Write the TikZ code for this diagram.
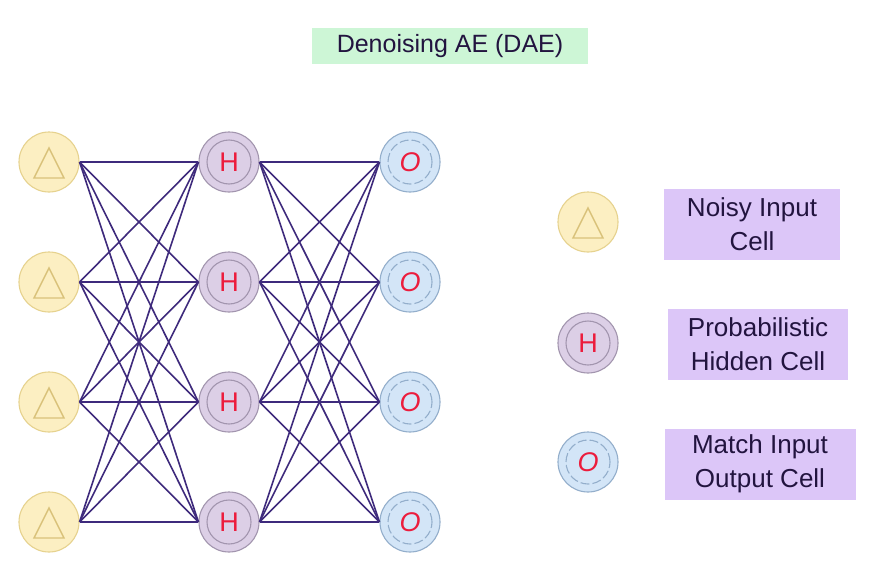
\documentclass[tikz,border=0pt]{standalone}
\usepackage{fontspec}
\setmainfont{Liberation Sans}
\begin{document}
\begin{tikzpicture}[x=1pt,y=-1pt,
  cellbase/.style={circle, minimum size=60pt, inner sep=0pt, line width=1.1pt},
  inputcell/.style={cellbase, draw=inborder, fill=infill,
    path picture={\draw[line width=1.4pt, draw=tricol]
      ([xshift=-15pt,yshift=-16pt]path picture bounding box.center) --
      ([xshift=15pt,yshift=-16pt]path picture bounding box.center) --
      ([yshift=14pt]path picture bounding box.center) -- cycle;}},
  hiddencell/.style={cellbase, draw=hidborder, fill=hidfill, text=letred,
    font=\fontsize{27}{27}\selectfont,
    path picture={\draw[line width=1.1pt, draw=hidborder]
      (path picture bounding box.center) circle (22pt);}},
  outputcell/.style={cellbase, draw=outborder, fill=outfill, text=letred,
    font=\fontsize{27}{27}\selectfont\itshape,
    path picture={\draw[line width=1.1pt, draw=outborder, dash pattern=on 9pt off 3pt]
      (path picture bounding box.center) circle (22pt);}},
  labelbox/.style={fill=labfill, text=labtext, align=center, inner xsep=4pt, inner ysep=3pt,
    font=\fontsize{26}{34}\selectfont},
  edge/.style={draw=edgecol, line width=1.6pt}
]
\definecolor{infill}{HTML}{FCEFC2}
\definecolor{inborder}{HTML}{E6D28E}
\definecolor{tricol}{HTML}{D9C27A}
\definecolor{hidfill}{HTML}{DCCFE6}
\definecolor{hidborder}{HTML}{A295AE}
\definecolor{outfill}{HTML}{D3E5F7}
\definecolor{outborder}{HTML}{93AECB}
\definecolor{letred}{HTML}{EC1C3C}
\definecolor{edgecol}{HTML}{3E2A7C}
\definecolor{labfill}{HTML}{DCC6F8}
\definecolor{labtext}{HTML}{22143F}
\definecolor{titlefill}{HTML}{CDF6D6}
\useasboundingbox[fill=white] (0,0) rectangle (880,562);

\node[fill=titlefill, text=labtext, minimum width=276pt, minimum height=36pt,
  font=\fontsize{25}{25}\selectfont] (title) at (450,46) {Denoising AE (DAE)};

\foreach \i/\y in {1/162,2/282,3/402,4/522}{
  \node[inputcell] (i\i) at (49,\y) {};
  \node[hiddencell] (h\i) at (229,\y) {H};
  \node[outputcell] (o\i) at (410,\y) {O};
}
\foreach \a in {1,...,4}{
  \foreach \b in {1,...,4}{
    \draw[edge] (i\a.east) -- (h\b.west);
    \draw[edge] (h\a.east) -- (o\b.west);
  }
}

\node[inputcell] (li) at (588,222) {};
\node[hiddencell] (lh) at (588,343) {H};
\node[outputcell] (lo) at (588,462) {O};

\node[labelbox, minimum width=176pt, minimum height=71pt] (lti) at (752,224) {Noisy Input\\Cell};
\node[labelbox, minimum width=180pt, minimum height=71pt] (lth) at (758,344) {Probabilistic\\Hidden Cell};
\node[labelbox, minimum width=191pt, minimum height=71pt] (lto) at (760,464) {Match Input\\Output Cell};
\end{tikzpicture}
\end{document}
